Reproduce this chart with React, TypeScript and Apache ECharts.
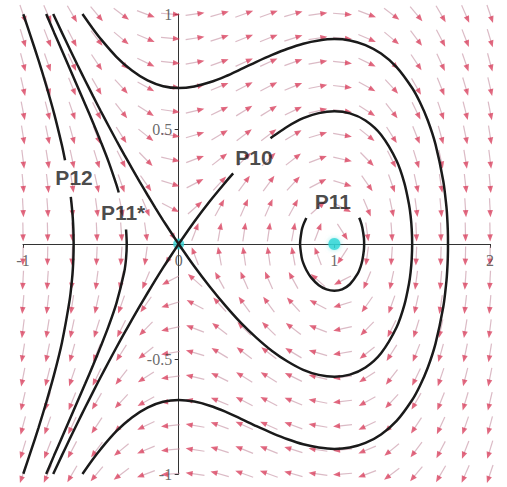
import { useEffect, useRef } from 'react';
import * as echarts from 'echarts';

// Direction-field grid (20 x 20, Maple DEplot style)
const gridX = [-1, -0.8421, -0.6842, -0.5263, -0.3684, -0.2105, -0.0526, 0.1053, 0.2632, 0.4211,
  0.5789, 0.7368, 0.8947, 1.0526, 1.2105, 1.3684, 1.5263, 1.6842, 1.8421, 2];
const gridY = [-1, -0.8947, -0.7895, -0.6842, -0.5789, -0.4737, -0.3684, -0.2632, -0.1579, -0.0526,
  0.0526, 0.1579, 0.2632, 0.3684, 0.4737, 0.5789, 0.6842, 0.7895, 0.8947, 1];
// horizontal component of the field, one value per row
const dxByRow = [-1, -0.8947, -0.7895, -0.6842, -0.5789, -0.4737, -0.3684, -0.2632, -0.1579, -0.0526,
  0.0526, 0.1579, 0.2632, 0.3684, 0.4737, 0.5789, 0.6842, 0.7895, 0.8947, 1];
// vertical component of the field, one value per column
const dyByColumn = [-2, -1.5512, -1.1523, -0.8033, -0.5041, -0.2548, -0.0554, 0.0942, 0.1939, 0.2438,
  0.2438, 0.1939, 0.0942, -0.0554, -0.2548, -0.5041, -0.8033, -1.1523, -1.5512, -2];

// Trajectories
const p12Upper: [number, number][] = [[-0.998, 0.999], [-0.95, 0.902], [-0.9, 0.798], [-0.85, 0.687],
  [-0.8, 0.567], [-0.75, 0.429], [-0.73, 0.364]];
const p12Lower: [number, number][] = [[-0.693, 0.205], [-0.685, 0.153], [-0.68, 0.11], [-0.6765, 0.064],
  [-0.6747, 0], [-0.6765, -0.064], [-0.68, -0.11], [-0.685, -0.153], [-0.7, -0.242], [-0.75, -0.429],
  [-0.8, -0.567], [-0.85, -0.687], [-0.9, -0.798], [-0.95, -0.902], [-0.998, -0.999]];

const p11sUpper: [number, number][] = [[-0.851, 1.0], [-0.8, 0.919], [-0.75, 0.841], [-0.7, 0.763],
  [-0.65, 0.685], [-0.6, 0.607], [-0.55, 0.527], [-0.5, 0.444], [-0.45, 0.357], [-0.4, 0.258], [-0.385, 0.224]];
const p11sLower: [number, number][] = [[-0.338, 0.063], [-0.3336, 0], [-0.338, -0.063], [-0.35, -0.123],
  [-0.4, -0.258], [-0.45, -0.357], [-0.5, -0.444], [-0.55, -0.527], [-0.6, -0.607], [-0.65, -0.685],
  [-0.7, -0.763], [-0.75, -0.841], [-0.8, -0.919], [-0.851, -1.0]];

const stableUpper: [number, number][] = [[-0.806, 1.0], [-0.75, 0.919], [-0.7, 0.848], [-0.65, 0.778],
  [-0.6, 0.71], [-0.55, 0.643], [-0.5, 0.577], [-0.45, 0.513], [-0.4, 0.45], [-0.35, 0.389], [-0.3, 0.329],
  [-0.25, 0.27], [-0.2, 0.213], [-0.15, 0.157], [-0.1, 0.103], [-0.05, 0.051], [0, 0]];
const stableLower: [number, number][] = [[0, 0], [-0.05, -0.051], [-0.1, -0.103], [-0.15, -0.157],
  [-0.2, -0.213], [-0.25, -0.27], [-0.3, -0.329], [-0.35, -0.389], [-0.4, -0.45], [-0.45, -0.513],
  [-0.5, -0.577], [-0.55, -0.643], [-0.6, -0.71], [-0.65, -0.778], [-0.7, -0.848], [-0.75, -0.919], [-0.806, -1.0]];
const p10Segment: [number, number][] = [[0, 0], [0.1, 0.097], [0.2, 0.186], [0.3, 0.268], [0.35, 0.307]];
const p10Loop: [number, number][] = [[0.59, 0.46], [0.6, 0.465], [0.7, 0.511], [0.8, 0.547], [0.9, 0.569],
  [1.0, 0.577], [1.1, 0.568], [1.2, 0.537], [1.3, 0.475], [1.4, 0.362], [1.45, 0.265], [1.48, 0.171],
  [1.49, 0.122], [1.497, 0.067], [1.5, 0], [1.497, -0.067], [1.49, -0.122], [1.48, -0.171], [1.45, -0.265],
  [1.4, -0.362], [1.3, -0.475], [1.2, -0.537], [1.1, -0.568], [1.0, -0.577], [0.9, -0.569], [0.8, -0.547],
  [0.7, -0.511], [0.6, -0.465], [0.5, -0.408], [0.4, -0.343], [0.3, -0.268], [0.2, -0.186], [0.1, -0.097], [0, 0]];

const outerOrbit: [number, number][] = [[-0.618, 1.0], [-0.55, 0.935], [-0.5, 0.891], [-0.4, 0.814],
  [-0.3, 0.754], [-0.2, 0.711], [-0.1, 0.686], [0, 0.678], [0.1, 0.685], [0.2, 0.703], [0.3, 0.729],
  [0.4, 0.76], [0.5, 0.792], [0.6, 0.822], [0.7, 0.849], [0.8, 0.871], [0.9, 0.885], [1.0, 0.891],
  [1.1, 0.885], [1.2, 0.865], [1.3, 0.828], [1.4, 0.769], [1.5, 0.678], [1.55, 0.616], [1.6, 0.538],
  [1.65, 0.433], [1.7, 0.273], [1.72, 0.162], [1.725, 0.117], [1.729, 0.06], [1.7302, 0],
  [1.729, -0.06], [1.725, -0.117], [1.72, -0.162], [1.7, -0.273], [1.65, -0.433], [1.6, -0.538],
  [1.55, -0.616], [1.5, -0.678], [1.4, -0.769], [1.3, -0.828], [1.2, -0.865], [1.1, -0.885], [1.0, -0.891],
  [0.9, -0.885], [0.8, -0.871], [0.7, -0.849], [0.6, -0.822], [0.5, -0.792], [0.4, -0.76], [0.3, -0.729],
  [0.2, -0.703], [0.1, -0.685], [0, -0.678], [-0.1, -0.686], [-0.2, -0.711], [-0.3, -0.754], [-0.4, -0.814],
  [-0.5, -0.891], [-0.55, -0.935], [-0.618, -1.0]];

const p11Orbit: [number, number][] = [[1.16, 0.114], [1.17, 0.096], [1.18, 0.071], [1.19, 0.026], [1.1915, 0],
  [1.19, -0.026], [1.18, -0.071], [1.17, -0.096], [1.15, -0.129], [1.1, -0.175], [1.05, -0.197], [1.0, -0.203],
  [0.95, -0.197], [0.9, -0.179], [0.85, -0.145], [0.82, -0.113], [0.8, -0.082], [0.79, -0.058], [0.78, 0],
  [0.79, 0.058], [0.8, 0.082], [0.82, 0.113]];

const equilibria: [number, number][] = [[0, 0], [1, 0]];

const labelNames = ['P12', 'P11*', 'P10', 'P11'];
const labelX = [-0.672, -0.357, 0.484, 0.991];
const labelY = [0.287, 0.135, 0.378, 0.183];

const xTickLabels = [-1, 0, 1, 2];
const yTickLabels = [-1, -0.5, 0.5, 1];

export default function App() {
  const ref = useRef<HTMLDivElement>(null);
  useEffect(() => {
    document.body.style.margin = '0';
    const chart = echarts.init(ref.current!, undefined, { renderer: 'svg' });

    const arrows: number[][] = [];
    gridY.forEach((y, j) => {
      gridX.forEach((x, i) => {
        arrows.push([x, y, dxByRow[j], dyByColumn[i]]);
      });
    });

    const curve = (data: [number, number][]) => ({
      type: 'line',
      data,
      showSymbol: false,
      smooth: 0.3,
      z: 3,
      lineStyle: { color: '#1a1a1a', width: 2.5 },
      silent: true,
    });

    const tickFont = { color: '#444', fontFamily: 'Liberation Serif', fontSize: 16 };

    const option: any = {
      animation: false,
      backgroundColor: '#ffffff',
      grid: { left: 23, right: 17, top: 14, bottom: 13, containLabel: false, outerBoundsMode: 'none' },
      xAxis: {
        type: 'value', min: -1, max: 2, interval: 1,
        splitLine: { show: false },
        axisLine: { onZero: true, lineStyle: { color: '#333', width: 1 } },
        axisTick: { show: true, length: 4, lineStyle: { color: '#333' } },
        axisLabel: { show: false },
      },
      yAxis: {
        type: 'value', min: -1, max: 1, interval: 0.5,
        splitLine: { show: false },
        axisLine: { onZero: true, lineStyle: { color: '#333', width: 1 } },
        axisTick: { show: true, length: 4, lineStyle: { color: '#333' } },
        axisLabel: { show: false },
      },
      series: [
        {
          type: 'custom',
          z: 1,
          silent: true,
          data: arrows,
          renderItem: (params: any, api: any) => {
            const x = api.value(0), y = api.value(1), u = api.value(2), v = api.value(3);
            const p0 = api.coord([x, y]);
            const p1 = api.coord([x + u * 0.01, y + v * 0.01]);
            let dx = p1[0] - p0[0], dy = p1[1] - p0[1];
            const len = Math.hypot(dx, dy) || 1;
            dx /= len; dy /= len;
            const L = 19;
            const sx = p0[0] - dx * L / 2, sy = p0[1] - dy * L / 2;
            const ex = p0[0] + dx * L / 2, ey = p0[1] + dy * L / 2;
            const hl = 7, hw = 2.8;
            const bx = ex - dx * hl, by = ey - dy * hl;
            const nx = -dy, ny = dx;
            return {
              type: 'group',
              children: [
                { type: 'line', shape: { x1: sx, y1: sy, x2: bx + dx * 2, y2: by + dy * 2 },
                  style: { stroke: 'rgba(195,140,158,0.6)', lineWidth: 1.2 } },
                { type: 'polygon', shape: { points: [[ex, ey], [bx + nx * hw, by + ny * hw], [bx - nx * hw, by - ny * hw]] },
                  style: { fill: 'rgba(215,55,85,0.75)' } },
              ],
            };
          },
        },
        {
          type: 'scatter', z: 2, silent: true,
          data: [equilibria[0]],
          symbolSize: 11,
          itemStyle: { color: '#2fd2d2' },
        },
        curve(p12Upper),
        curve(p12Lower),
        curve(p11sUpper),
        curve(p11sLower),
        curve(stableUpper),
        curve(stableLower),
        curve(p10Segment),
        curve(p10Loop),
        curve(outerOrbit),
        curve(p11Orbit),
        {
          type: 'scatter', z: 4, silent: true,
          data: [equilibria[1]],
          symbolSize: 12,
          itemStyle: { color: '#2fd6d6', shadowBlur: 4, shadowColor: 'rgba(47,214,214,0.6)' },
        },
        {
          type: 'scatter', z: 5, silent: true,
          symbolSize: 1,
          itemStyle: { color: 'transparent' },
          data: labelNames.map((n, i) => ({ name: n, value: [labelX[i], labelY[i]] })),
          label: {
            show: true, position: 'inside', formatter: '{b}',
            fontFamily: 'Liberation Sans', fontWeight: 'bold', fontSize: 21, color: '#1a1a1a',
          },
        },
        {
          type: 'scatter', z: 5, silent: true,
          symbolSize: 1,
          itemStyle: { color: 'transparent' },
          data: xTickLabels.map((v) => ({ name: String(v), value: [v, 0] })),
          label: { show: true, position: 'bottom', distance: 8, formatter: '{b}', ...tickFont },
        },
        {
          type: 'scatter', z: 5, silent: true,
          symbolSize: 1,
          itemStyle: { color: 'transparent' },
          data: yTickLabels.map((v) => ({ name: String(v), value: [0, v] })),
          label: { show: true, position: 'left', distance: 6, formatter: '{b}', ...tickFont },
        },
      ],
    };
    chart.setOption(option);
    return () => chart.dispose();
  }, []);
  return <div ref={ref} style={{ width: 507, height: 487, background: '#fff' }} />;
}
